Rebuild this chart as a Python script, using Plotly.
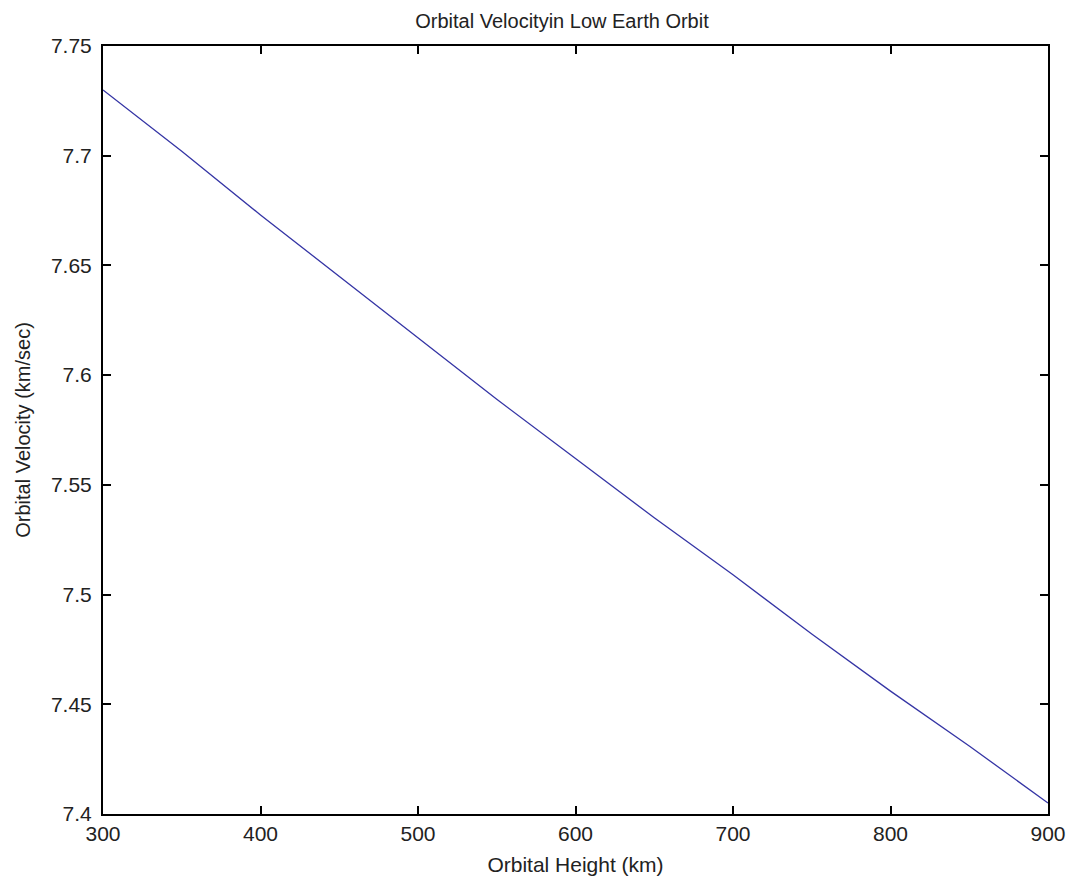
import plotly.graph_objects as go

# Data
orbital_height_km = [300, 350, 400, 450, 500, 550, 600, 650, 700, 750, 800, 850, 900]
orbital_velocity_kms = [7.730, 7.702, 7.673, 7.645, 7.617, 7.589, 7.562,
                        7.535, 7.509, 7.482, 7.456, 7.431, 7.405]

x_ticks = [300, 400, 500, 600, 700, 800, 900]
y_ticks = [7.4, 7.45, 7.5, 7.55, 7.6, 7.65, 7.7, 7.75]
y_tick_text = ["7.4", "7.45", "7.5", "7.55", "7.6", "7.65", "7.7", "7.75"]

fig = go.Figure()
fig.add_trace(go.Scatter(
    x=orbital_height_km, y=orbital_velocity_kms, mode="lines",
    line=dict(color="#3535a5", width=1.3), showlegend=False,
))

font_family = "Liberation Sans, Arial, sans-serif"
axis_common = dict(
    showline=True, linecolor="black", linewidth=2, mirror="ticks",
    ticks="inside", ticklen=8, tickwidth=1.5, tickcolor="black",
    showgrid=False, zeroline=False,
    tickfont=dict(family=font_family, size=21, color="#222222"),
)

W, H = 1067, 873
fig.update_layout(
    width=W, height=H,
    margin=dict(l=95, r=27, t=38, b=67, autoexpand=False),
    paper_bgcolor="white", plot_bgcolor="white",
    title=dict(text="Orbital Velocityin Low Earth Orbit",
               xref="container", x=554 / W, xanchor="center",
               yref="container", y=1 - 13 / H, yanchor="middle",
               font=dict(family=font_family, size=20, color="#222222")),
    xaxis=dict(range=[300, 900], tickvals=x_ticks, ticktext=[str(v) for v in x_ticks],
               ticklabelstandoff=0,
               title=dict(text="Orbital Height (km)", standoff=13,
                          font=dict(family=font_family, size=21, color="#222222")),
               **axis_common),
    yaxis=dict(range=[7.4, 7.75], tickvals=y_ticks, ticktext=y_tick_text,
               ticklabelstandoff=5,
               title=dict(text="Orbital Velocity (km/sec)", standoff=15,
                          font=dict(family=font_family, size=20, color="#222222")),
               **axis_common),
)

fig.write_html("out.html")
